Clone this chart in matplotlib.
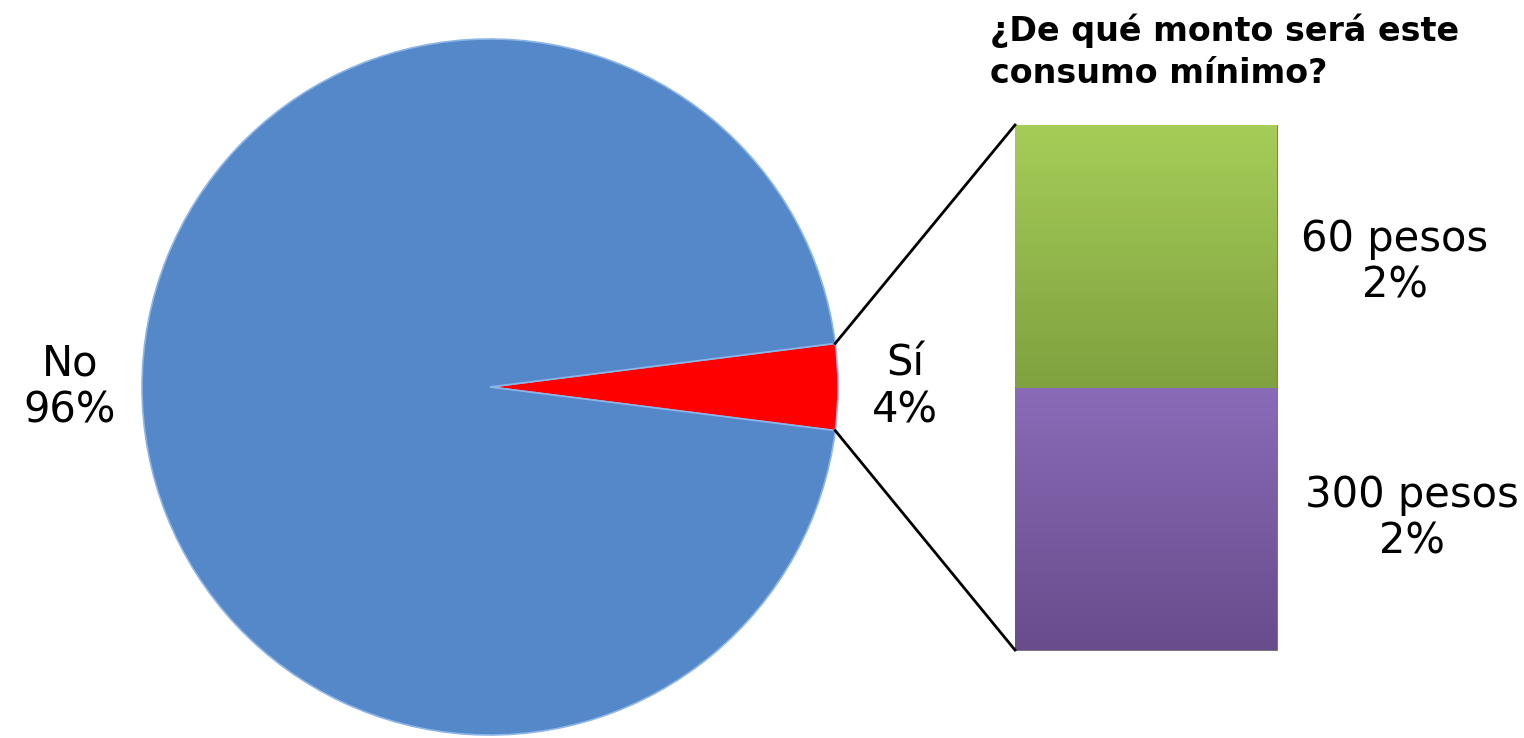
import numpy as np
import matplotlib.pyplot as plt
from matplotlib.colors import LinearSegmentedColormap

# pie data
pie_labels = ['Sí', 'No']
pie_values = [4, 96]
pie_colors = ['#FF0000', '#5588C8']

# breakdown of "Sí"
bar_labels = ['300 pesos', '60 pesos']
bar_values = [2, 2]
bar_colors = [('#8A6BB8', '#684C8C'), ('#A6CD58', '#7FA13F')]

title = '¿De qué monto será este\nconsumo mínimo?'

fig = plt.figure(figsize=(15.24, 7.38), dpi=100)
ax = fig.add_axes([0, 0, 1, 1])

# pie in pixel coords (y up)
cx, cy, r = 490, 351, 348
half = pie_values[0] / 100 * 360 / 2
wedges, _ = ax.pie(pie_values, colors=pie_colors, startangle=-half, counterclock=True,
                   center=(cx, cy), radius=r, frame=True,
                   wedgeprops=dict(edgecolor='#8DB6E8', linewidth=1.2))

ax.text(70, 738 - 387, f'{pie_labels[1]}\n{pie_values[1]}%', ha='center', va='center',
        fontsize=30, linespacing=1.15)
ax.text(905, 738 - 387, f'{pie_labels[0]}\n{pie_values[0]}%', ha='center', va='center',
        fontsize=30, linespacing=1.15)

# stacked bar with a soft vertical gradient
bx, bw = 1146, 262
scale = 525 / sum(bar_values)
bottom = 738 - 650
grad = np.linspace(0, 1, 256).reshape(-1, 1)
for lab, val, (c_top, c_bot) in zip(bar_labels, bar_values, bar_colors):
    bars = ax.bar(bx, val * scale, width=bw, bottom=bottom, color=c_bot,
                  edgecolor='#6e6e6e', linewidth=0.6)
    cmap = LinearSegmentedColormap.from_list('g', [c_bot, c_top])
    im = ax.imshow(grad, cmap=cmap, aspect='auto', origin='lower',
                   extent=(bx - bw / 2, bx + bw / 2, bottom, bottom + val * scale), zorder=2)
    im.set_clip_path(bars[0])
    bottom += val * scale

ax.text(1412, 738 - 518, f'{bar_labels[0]}\n{bar_values[0]}%', ha='center', va='center',
        fontsize=30, linespacing=1.15)
ax.text(1395, 738 - 262, f'{bar_labels[1]}\n{bar_values[1]}%', ha='center', va='center',
        fontsize=30, linespacing=1.15)

# connector lines
top_bar = 738 - 125
bot_bar = 738 - 650
a = np.deg2rad(half)
ax.plot([cx + r * np.cos(a), bx - bw / 2], [cy + r * np.sin(a), top_bar], color='black', lw=2)
ax.plot([cx + r * np.cos(a), bx - bw / 2], [cy - r * np.sin(a), bot_bar], color='black', lw=2)

ax.text(990, 738 - 14, title, ha='left', va='top', fontsize=24, fontweight='bold',
        linespacing=1.32)

ax.set_xlim(0, 1524)
ax.set_ylim(0, 738)
ax.set_aspect('equal')
ax.axis('off')

fig.savefig('out.png', dpi=100)
